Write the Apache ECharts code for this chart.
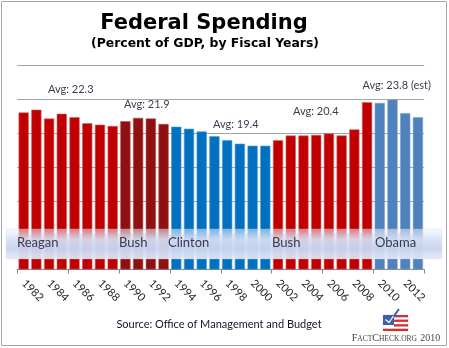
<!DOCTYPE html>
<html>
<head>
<meta charset="utf-8">
<script src="https://cdn.jsdelivr.net/npm/echarts@6/dist/echarts.min.js"></script>
<style>
html,body{margin:0;padding:0;background:#fff;}
#c{width:449px;height:348px;}
</style>
</head>
<body>
<div id="c"></div>
<script>
// ---- data ----
var years = ['1982','1983','1984','1985','1986','1987','1988','1989','1990','1991','1992','1993',
             '1994','1995','1996','1997','1998','1999','2000','2001','2002','2003','2004','2005',
             '2006','2007','2008','2009','2010','2011','2012','2013'];
var spending = [23.1, 23.5, 22.2, 22.9, 22.4, 21.5, 21.3, 21.1, 21.8, 22.3, 22.2, 21.4,
                21.0, 20.7, 20.3, 19.6, 19.0, 18.5, 18.2, 18.2, 19.0, 19.7, 19.7, 19.8,
                20.0, 19.7, 20.6, 24.6, 24.5, 25.0, 23.0, 22.4];
var presidents = ['Reagan', 'Bush', 'Clinton', 'Bush', 'Obama'];
var presidentStart = ['1982', '1990', '1994', '2002', '2010'];
var presidentColors = ['#C00000', '#8E1010', '#0070C0', '#C00000', '#4F81BD'];
var presidentBorders = ['#d86060', '#b05050', '#4f9ad6', '#d86060', '#7c9fcc'];
var avgLabels = ['Avg: 22.3', 'Avg: 21.9', 'Avg: 19.4', 'Avg: 20.4', 'Avg: 23.8 (est)'];
var yTicks = [0, 5, 10, 15, 20, 25, 30];

function periodOf(year) {
  var k = 0;
  for (var i = 0; i < presidentStart.length; i++) {
    if (+year >= +presidentStart[i]) k = i;
  }
  return k;
}

var barData = spending.map(function (v, i) {
  var k = periodOf(years[i]);
  return { value: v, itemStyle: { color: presidentColors[k], borderColor: presidentBorders[k], borderWidth: 0.6 } };
});

var chart = echarts.init(document.getElementById('c'), null, { renderer: 'canvas' });

var labelFont = 'Lato, "Open Sans", sans-serif';
var avgPos = [[48, 89.5], [124, 104], [213, 124], [293, 111.5], [362.5, 85]];
var bandPos = [17, 119, 168, 272, 375];

var graphics = [
  { type: 'rect', shape: { x: 1.5, y: 1.5, width: 445, height: 344 },
    style: { fill: 'none', stroke: '#a6a6a6', lineWidth: 1 }, z: 1 },
  { type: 'text', style: { text: 'Federal Spending', x: 204, y: 24, textAlign: 'center', textVerticalAlign: 'middle',
      font: 'bold 21px "DejaVu Sans", Verdana, sans-serif', fill: '#000' }, z: 10 },
  { type: 'text', style: { text: '(Percent of GDP, by Fiscal Years)', x: 205, y: 44, textAlign: 'center', textVerticalAlign: 'middle',
      font: 'bold 12.4px "DejaVu Sans", Verdana, sans-serif', fill: '#000' }, z: 10 },
  { type: 'rect', shape: { x: 6, y: 229, width: 436, height: 30 },
    style: { fill: new echarts.graphic.LinearGradient(0, 0, 0, 1, [
      { offset: 0, color: 'rgba(238,242,250,0.5)' },
      { offset: 0.35, color: 'rgba(215,224,244,0.93)' },
      { offset: 0.65, color: 'rgba(200,212,240,0.97)' },
      { offset: 1, color: 'rgba(228,234,248,0.93)' }
    ]), stroke: 'rgba(200,208,225,0.6)', lineWidth: 0.5 }, z: 100 },
  { type: 'text', style: { text: 'Source: Office of Management and Budget', x: 219, y: 324, textAlign: 'center', textVerticalAlign: 'middle',
      font: '11px ' + labelFont, fill: '#14142e' }, z: 10 },
  // FactCheck logo
  { type: 'rect', shape: { x: 383, y: 315, width: 25, height: 16 }, style: { fill: '#ffffff', stroke: '#c8c8d8', lineWidth: 0.5 }, z: 10 },
  { type: 'rect', shape: { x: 383, y: 315, width: 11, height: 10 }, style: { fill: '#3b62ad' }, z: 11 },
  { type: 'rect', shape: { x: 394, y: 315, width: 14, height: 2.3 }, style: { fill: '#d03030' }, z: 11 },
  { type: 'rect', shape: { x: 394, y: 319.6, width: 14, height: 2.3 }, style: { fill: '#d03030' }, z: 11 },
  { type: 'rect', shape: { x: 394, y: 324.2, width: 14, height: 2.3 }, style: { fill: '#d03030' }, z: 11 },
  { type: 'rect', shape: { x: 383, y: 328.7, width: 25, height: 2.3 }, style: { fill: '#d03030' }, z: 11 },
  { type: 'polyline', shape: { points: [[385, 319], [389, 323], [399, 309]] },
    style: { stroke: '#3b62ad', lineWidth: 2, fill: 'none' }, z: 12 },
  { type: 'polyline', shape: { points: [[385.5, 319.5], [389, 322.5], [393.5, 316]] },
    style: { stroke: '#ffffff', lineWidth: 1.2, fill: 'none' }, z: 13 },
  { type: 'text', style: { text: '{b|F}{s|ACT}{b|C}{s|HECK.ORG} {b|2010}', x: 396, y: 337.5, textAlign: 'center', textVerticalAlign: 'middle',
      rich: { b: { fontSize: 10, fontFamily: '"Liberation Serif", serif', fill: '#444', verticalAlign: 'bottom' },
              s: { fontSize: 7.5, fontFamily: '"Liberation Serif", serif', fill: '#444', verticalAlign: 'bottom' } } }, z: 10 }
];

avgLabels.forEach(function (t, i) {
  graphics.push({ type: 'text', style: { text: t, x: avgPos[i][0], y: avgPos[i][1], textVerticalAlign: 'middle',
    font: '11px ' + labelFont, fill: '#3c3c50' }, z: 20 });
});
presidents.forEach(function (p, i) {
  graphics.push({ type: 'text', style: { text: p, x: bandPos[i], y: 242.5, textVerticalAlign: 'middle',
    font: '13px ' + labelFont, fill: '#3a3a4a' }, z: 110 });
});

chart.setOption({
  animation: false,
  backgroundColor: '#ffffff',
  grid: { left: 17.3, right: 24.7, top: 65.5, bottom: 78.5, containLabel: false },
  xAxis: {
    type: 'category',
    data: years,
    boundaryGap: true,
    axisLine: { lineStyle: { color: '#868686', width: 1 } },
    axisTick: { show: true, interval: 3, length: 4, lineStyle: { color: '#868686' } },
    axisLabel: { interval: 1, rotate: -45, margin: 12, color: '#222', fontSize: 11, fontFamily: labelFont }
  },
  yAxis: {
    type: 'value',
    min: yTicks[0],
    max: yTicks[yTicks.length - 1],
    interval: yTicks[1] - yTicks[0],
    axisLine: { show: false },
    axisTick: { show: false },
    axisLabel: { show: false },
    splitLine: { lineStyle: { color: '#a6a6a6', width: 1 } }
  },
  series: [{
    type: 'bar',
    data: barData,
    barCategoryGap: '20%',
    z: 2
  }],
  graphic: graphics
});
</script>
</body>
</html>
